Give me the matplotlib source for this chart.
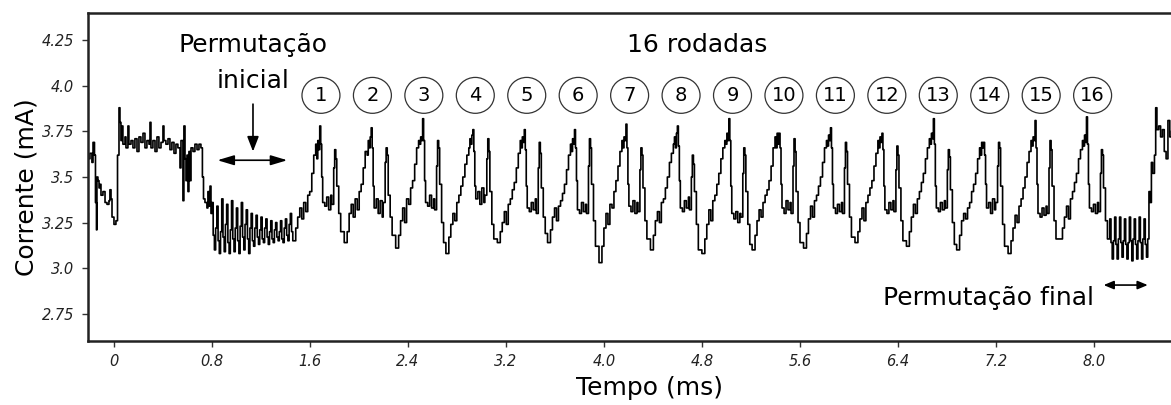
import numpy as np
import matplotlib
matplotlib.use("Agg")
import matplotlib.pyplot as plt
from matplotlib.patches import Ellipse

# trecho inicial (antes da permutação inicial), pares tempo/corrente
tempo_inicio = [-0.212, -0.196, -0.180, -0.171, -0.159, -0.151, -0.143, -0.139, -0.131, -0.122,
                -0.114, -0.106, -0.090, -0.073, -0.057, -0.041, -0.033, -0.024, -0.016, 0.000,
                0.016, 0.029, 0.041, 0.049, 0.057, 0.065, 0.073, 0.090, 0.098, 0.114,
                0.122, 0.139, 0.155, 0.171, 0.188, 0.204, 0.220, 0.237, 0.253, 0.269,
                0.286, 0.294, 0.302, 0.318, 0.335, 0.351, 0.367, 0.384, 0.400, 0.408,
                0.424, 0.441, 0.457, 0.473, 0.490, 0.506, 0.522, 0.539, 0.547, 0.563,
                0.571, 0.580, 0.588, 0.596, 0.604, 0.612, 0.620, 0.629, 0.645, 0.661,
                0.678, 0.694, 0.710, 0.722, 0.731, 0.743, 0.759, 0.767, 0.776, 0.784, 0.792]
corrente_inicio = [3.60, 3.63, 3.58, 3.69, 3.62, 3.36, 3.21, 3.50, 3.48, 3.44,
                   3.46, 3.40, 3.42, 3.36, 3.35, 3.37, 3.43, 3.38, 3.28, 3.24,
                   3.26, 3.62, 3.88, 3.80, 3.70, 3.78, 3.68, 3.72, 3.66, 3.78,
                   3.68, 3.70, 3.66, 3.71, 3.64, 3.72, 3.69, 3.74, 3.66, 3.70,
                   3.68, 3.80, 3.66, 3.70, 3.64, 3.72, 3.66, 3.69, 3.78, 3.70,
                   3.68, 3.71, 3.65, 3.69, 3.63, 3.68, 3.66, 3.55, 3.70, 3.37,
                   3.78, 3.60, 3.48, 3.62, 3.42, 3.64, 3.48, 3.66, 3.64, 3.68,
                   3.65, 3.68, 3.66, 3.50, 3.38, 3.36, 3.33, 3.42, 3.34, 3.45, 3.30]

# permutação inicial, amostras a cada 0.01 ms a partir de 0.80 ms
corrente_perm_inicial = [3.36, 3.18, 3.10, 3.22, 3.34, 3.15, 3.08, 3.20, 3.38, 3.17,
                         3.09, 3.24, 3.35, 3.14, 3.08, 3.21, 3.37, 3.16, 3.09, 3.22,
                         3.33, 3.15, 3.08, 3.23, 3.36, 3.17, 3.10, 3.24, 3.32, 3.16,
                         3.08, 3.22, 3.30, 3.15, 3.12, 3.22, 3.29, 3.17, 3.13, 3.21,
                         3.28, 3.16, 3.14, 3.22, 3.27, 3.17, 3.13, 3.20, 3.26, 3.16,
                         3.14, 3.21, 3.25, 3.17, 3.15, 3.20, 3.26, 3.16, 3.14, 3.22,
                         3.27, 3.18, 3.15, 3.24, 3.30, 3.20]

# 16 rodadas: instante do pico de cada rodada e amostras em torno dele
pico_rodada = [1.68, 2.10, 2.52, 2.93, 3.35, 3.76, 4.18, 4.60,
               5.02, 5.43, 5.85, 6.27, 6.69, 7.10, 7.52, 7.94]
fase = [-0.220, -0.196, -0.180, -0.163, -0.147, -0.131, -0.114, -0.098, -0.082, -0.065,
        -0.049, -0.033, -0.024, -0.016, -0.008, 0.000, 0.008, 0.016, 0.024, 0.041,
        0.057, 0.073, 0.090, 0.098, 0.114, 0.122, 0.131, 0.139, 0.155, 0.171]
corrente_rodadas = [
    [3.15, 3.22, 3.28, 3.33, 3.27, 3.36, 3.31, 3.40, 3.42, 3.52, 3.62, 3.68, 3.60, 3.70, 3.65, 3.78, 3.68, 3.50, 3.36, 3.34, 3.39, 3.32, 3.40, 3.35, 3.55, 3.65, 3.60, 3.45, 3.30, 3.20],
    [3.14, 3.20, 3.30, 3.35, 3.28, 3.38, 3.32, 3.42, 3.46, 3.55, 3.64, 3.62, 3.70, 3.66, 3.72, 3.77, 3.66, 3.45, 3.33, 3.38, 3.30, 3.37, 3.28, 3.36, 3.58, 3.66, 3.62, 3.40, 3.28, 3.18],
    [3.11, 3.18, 3.26, 3.33, 3.25, 3.38, 3.35, 3.44, 3.48, 3.57, 3.66, 3.70, 3.68, 3.72, 3.70, 3.82, 3.70, 3.48, 3.36, 3.34, 3.40, 3.33, 3.38, 3.32, 3.56, 3.70, 3.66, 3.46, 3.25, 3.14],
    [3.08, 3.17, 3.24, 3.30, 3.26, 3.36, 3.40, 3.45, 3.50, 3.57, 3.62, 3.66, 3.71, 3.68, 3.73, 3.76, 3.64, 3.45, 3.38, 3.42, 3.35, 3.44, 3.36, 3.40, 3.60, 3.71, 3.64, 3.42, 3.24, 3.16],
    [3.14, 3.20, 3.25, 3.31, 3.24, 3.35, 3.38, 3.43, 3.47, 3.55, 3.63, 3.70, 3.66, 3.72, 3.69, 3.76, 3.65, 3.45, 3.33, 3.31, 3.36, 3.32, 3.38, 3.30, 3.55, 3.69, 3.63, 3.44, 3.28, 3.19],
    [3.14, 3.21, 3.28, 3.33, 3.26, 3.34, 3.37, 3.41, 3.46, 3.54, 3.62, 3.68, 3.64, 3.71, 3.68, 3.76, 3.66, 3.48, 3.32, 3.30, 3.36, 3.31, 3.35, 3.30, 3.56, 3.71, 3.66, 3.46, 3.26, 3.12],
    [3.03, 3.12, 3.22, 3.30, 3.24, 3.35, 3.33, 3.42, 3.48, 3.56, 3.64, 3.70, 3.66, 3.72, 3.70, 3.79, 3.66, 3.46, 3.34, 3.31, 3.37, 3.30, 3.36, 3.31, 3.54, 3.66, 3.62, 3.44, 3.26, 3.16],
    [3.10, 3.18, 3.26, 3.31, 3.25, 3.36, 3.38, 3.44, 3.50, 3.58, 3.63, 3.68, 3.72, 3.66, 3.74, 3.78, 3.67, 3.48, 3.33, 3.31, 3.37, 3.33, 3.39, 3.32, 3.50, 3.62, 3.57, 3.42, 3.24, 3.10],
    [3.08, 3.16, 3.24, 3.32, 3.26, 3.37, 3.40, 3.46, 3.52, 3.60, 3.66, 3.70, 3.68, 3.74, 3.70, 3.82, 3.70, 3.45, 3.30, 3.27, 3.31, 3.25, 3.30, 3.28, 3.52, 3.66, 3.62, 3.42, 3.24, 3.13],
    [3.10, 3.18, 3.26, 3.32, 3.28, 3.36, 3.40, 3.43, 3.48, 3.56, 3.66, 3.72, 3.66, 3.74, 3.68, 3.74, 3.66, 3.46, 3.33, 3.30, 3.37, 3.32, 3.36, 3.30, 3.56, 3.71, 3.64, 3.42, 3.25, 3.14],
    [3.11, 3.19, 3.27, 3.34, 3.28, 3.37, 3.40, 3.45, 3.50, 3.58, 3.66, 3.70, 3.67, 3.73, 3.70, 3.77, 3.66, 3.46, 3.33, 3.30, 3.35, 3.31, 3.36, 3.30, 3.55, 3.69, 3.64, 3.46, 3.28, 3.17],
    [3.14, 3.20, 3.27, 3.33, 3.26, 3.36, 3.40, 3.44, 3.48, 3.56, 3.63, 3.70, 3.66, 3.72, 3.69, 3.74, 3.65, 3.45, 3.32, 3.30, 3.36, 3.32, 3.37, 3.31, 3.54, 3.67, 3.62, 3.44, 3.26, 3.15],
    [3.12, 3.20, 3.28, 3.35, 3.30, 3.38, 3.42, 3.47, 3.52, 3.60, 3.66, 3.71, 3.68, 3.74, 3.71, 3.82, 3.68, 3.45, 3.33, 3.31, 3.36, 3.32, 3.37, 3.33, 3.54, 3.65, 3.61, 3.43, 3.25, 3.13],
    [3.10, 3.18, 3.26, 3.30, 3.27, 3.33, 3.36, 3.42, 3.46, 3.52, 3.60, 3.66, 3.62, 3.69, 3.66, 3.69, 3.62, 3.46, 3.33, 3.36, 3.30, 3.38, 3.32, 3.36, 3.56, 3.69, 3.66, 3.45, 3.24, 3.12],
    [3.08, 3.15, 3.22, 3.29, 3.25, 3.34, 3.38, 3.44, 3.50, 3.58, 3.64, 3.70, 3.67, 3.72, 3.70, 3.81, 3.66, 3.46, 3.30, 3.28, 3.33, 3.29, 3.34, 3.30, 3.55, 3.70, 3.65, 3.45, 3.26, 3.16],
    [3.16, 3.22, 3.28, 3.34, 3.27, 3.38, 3.42, 3.47, 3.52, 3.60, 3.65, 3.70, 3.67, 3.73, 3.69, 3.83, 3.68, 3.46, 3.33, 3.31, 3.35, 3.30, 3.36, 3.31, 3.52, 3.65, 3.62, 3.44, 3.26, 3.16],
]

# permutação final, amostras a cada 0.01 ms a partir de 8.12 ms
corrente_perm_final = [3.16, 3.27, 3.14, 3.05, 3.15, 3.28, 3.13, 3.05, 3.16, 3.28,
                       3.14, 3.06, 3.15, 3.27, 3.13, 3.05, 3.14, 3.28, 3.15, 3.04,
                       3.16, 3.27, 3.13, 3.05, 3.15, 3.28, 3.14, 3.05, 3.16, 3.27,
                       3.13, 3.06]

tempo_fim = [8.44, 8.45, 8.46, 8.47, 8.48, 8.495, 8.505, 8.515, 8.53, 8.545,
             8.56, 8.575, 8.59, 8.605, 8.62, 8.635]
corrente_fim = [3.16, 3.42, 3.36, 3.58, 3.52, 3.62, 3.88, 3.76, 3.78, 3.72,
                3.76, 3.64, 3.60, 3.81, 3.72, 3.75]

# posições dos círculos numerados (ms)
circulo_x = [1.69, 2.11, 2.53, 2.95, 3.37, 3.79, 4.21, 4.63,
             5.05, 5.47, 5.89, 6.31, 6.73, 7.15, 7.57, 7.99]

x_ticks = [0, 0.8, 1.6, 2.4, 3.2, 4.0, 4.8, 5.6, 6.4, 7.2, 8.0]
x_labels = ["0", "0.8", "1.6", "2.4", "3.2", "4.0", "4.8", "5.6", "6.4", "7.2", "8.0"]
y_ticks = [2.75, 3.0, 3.25, 3.5, 3.75, 4.0, 4.25]
y_labels = ["2.75", "3.0", "3.25", "3.5", "3.75", "4.0", "4.25"]

# monta o sinal completo
t_perm_ini = 0.80 + 0.01 * np.arange(len(corrente_perm_inicial))
t_rod = np.concatenate([p + np.array(fase) for p in pico_rodada])
t_perm_fin = 8.12 + 0.01 * np.arange(len(corrente_perm_final))
tempo = np.concatenate([tempo_inicio, t_perm_ini, t_rod, t_perm_fin, tempo_fim])
corrente = np.concatenate([corrente_inicio, corrente_perm_inicial,
                           np.concatenate(corrente_rodadas), corrente_perm_final, corrente_fim])

W, H = 1171, 405
fig = plt.figure(figsize=(W / 100, H / 100), dpi=100)
ax = fig.add_axes([88 / W, 1 - 341 / H, 1 - 88 / W, (341 - 13) / H])

ax.plot(tempo, corrente, color='black', lw=1.2, drawstyle='steps-post')

ax.set_xlim(-0.212, 8.63)
ax.set_ylim(2.60, 4.40)
ax.set_xticks(x_ticks)
ax.set_xticklabels(x_labels, fontstyle='italic', fontsize=10.5)
ax.set_yticks(y_ticks)
ax.set_yticklabels(y_labels, fontstyle='italic', fontsize=10.5)
ax.tick_params(axis='both', direction='out', length=4, width=1, color='#333',
               labelcolor='#222', pad=5)
ax.tick_params(axis='y', pad=6)

for s in ['left', 'bottom', 'top']:
    ax.spines[s].set_linewidth(1.8)
    ax.spines[s].set_color('#222')
ax.spines['right'].set_visible(False)

fig.text(27 / W, 1 - 187 / H, "Corrente (mA)", rotation=90, ha='center', va='center', fontsize=18)
fig.text(650 / W, 1 - 388 / H, "Tempo (ms)", ha='center', va='center', fontsize=18)

# anotações
ax.text(1.135, 4.184, "Permutação", ha='center', va='baseline', fontsize=18)
ax.text(1.135, 3.99, "inicial", ha='center', va='baseline', fontsize=18)
ax.text(4.76, 4.184, "16 rodadas", ha='center', va='baseline', fontsize=18)

for i, cx in enumerate(circulo_x):
    ax.add_patch(Ellipse((cx, 3.948), width=0.31, height=0.197, fill=False,
                         lw=0.9, ec='#333', clip_on=False))
    ax.text(cx, 3.948, str(i + 1), ha='center', va='center', fontsize=14)

seta = dict(arrowstyle='-|>,head_length=0.9,head_width=0.35', color='black', lw=1.2,
            shrinkA=0, shrinkB=0)
dupla = dict(arrowstyle='<|-|>,head_length=1.0,head_width=0.3', color='black', lw=1.2,
             shrinkA=0, shrinkB=0)
ax.annotate("", xy=(1.135, 3.64), xytext=(1.135, 3.90), arrowprops=seta)
ax.annotate("", xy=(0.845, 3.592), xytext=(1.415, 3.592), arrowprops=dupla)

ax.text(8.005, 2.797, "Permutação final", ha='right', va='baseline', fontsize=18)
ax.annotate("", xy=(8.08, 2.907), xytext=(8.44, 2.907),
            arrowprops=dict(arrowstyle='<|-|>,head_length=0.6,head_width=0.25', color='black',
                            lw=1.2, shrinkA=0, shrinkB=0))

fig.savefig("out.png", dpi=100)
